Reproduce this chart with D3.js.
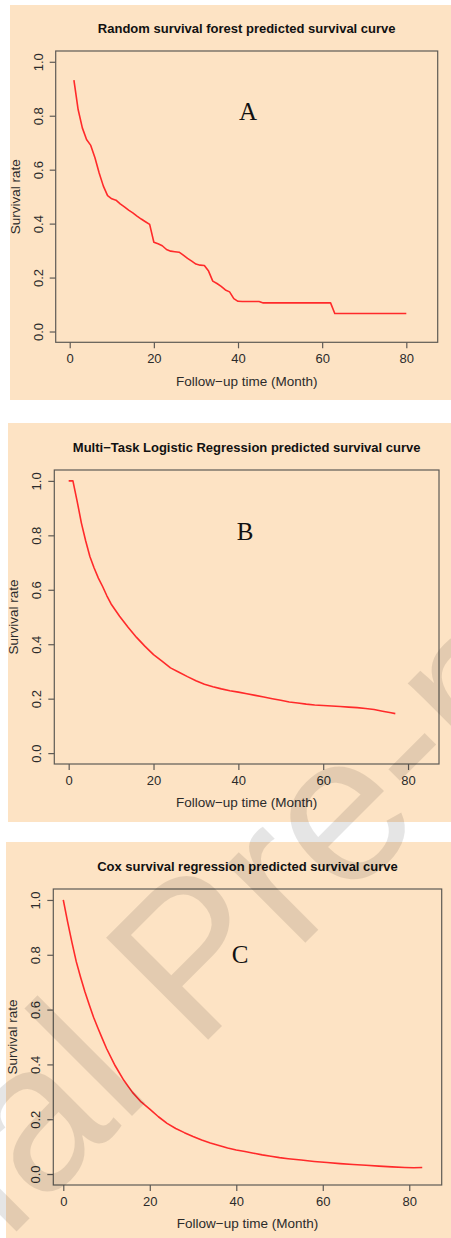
<!DOCTYPE html>
<html>
<head>
<meta charset="utf-8">
<style>
  body { margin: 0; background: #fff; }
  svg text { font-family: "Liberation Sans", Arial, sans-serif; }
  .panel-bg { fill: #fde3c4; }
  .frame { fill: none; stroke: #5e5a55; stroke-width: 1.2px; }
  .axis line { stroke: #5e5a55; stroke-width: 1.2px; }
  .axis text { font-size: 13px; fill: #2b2b2b; }
  .title { font-size: 13px; font-weight: bold; fill: #111; text-anchor: middle; }
  .axis-title { font-size: 13.5px; fill: #2b2b2b; text-anchor: middle; }
  .curve { fill: none; stroke: #ff2a2a; stroke-width: 1.6px; stroke-linejoin: round; }
  .tag { font-family: "Liberation Serif", "Times New Roman", serif; font-size: 25px; fill: #111; text-anchor: middle; }
  .watermark { font-size: 210px; fill: #000; fill-opacity: 0.1; }
</style>
</head>
<body>
<div id="chart"></div>
<script src="https://cdn.jsdelivr.net/npm/d3@7"></script>
<script>
var xTicks = [0, 20, 40, 60, 80];
var yTicks = [0, 0.2, 0.4, 0.6, 0.8, 1.0];
var panelTitles = [
  "Random survival forest predicted survival curve",
  "Multi\u2212Task Logistic Regression predicted survival curve",
  "Cox survival regression predicted survival curve"
];
var panelTags = ["A", "B", "C"];
var xLabel = "Follow\u2212up time (Month)";
var yLabel = "Survival rate";

// [month, survival]
var rsfCurve = [
  [1, 0.932], [2, 0.823], [3, 0.755], [4, 0.712], [5, 0.690], [6, 0.644], [7, 0.588],
  [8, 0.539], [9, 0.504], [10, 0.492], [11, 0.487], [12, 0.473], [13, 0.462], [14, 0.450],
  [15, 0.440], [16, 0.428], [17, 0.417], [18, 0.407], [19, 0.397], [20, 0.331], [21, 0.325],
  [22, 0.318], [23, 0.304], [24, 0.298], [25, 0.296], [26, 0.294], [27, 0.283], [28, 0.271],
  [29, 0.261], [30, 0.250], [31, 0.246], [32, 0.245], [33, 0.224], [34, 0.187], [35, 0.178],
  [36, 0.167], [37, 0.154], [38, 0.147], [39, 0.122], [40, 0.112], [41, 0.111], [45, 0.111],
  [46, 0.106], [62, 0.106], [63, 0.067], [80, 0.067]
];
var mtlrCurve = [
  [0, 1.0], [1, 1.0], [2, 0.925], [3, 0.845], [4, 0.78], [5, 0.722], [6, 0.68], [7, 0.643],
  [8, 0.612], [9, 0.578], [10, 0.548], [12, 0.503], [14, 0.462], [16, 0.425], [18, 0.392],
  [20, 0.362], [22, 0.338], [24, 0.313], [26, 0.297], [28, 0.281], [30, 0.266], [32, 0.253],
  [34, 0.244], [36, 0.236], [38, 0.229], [40, 0.224], [42, 0.218], [44, 0.212], [46, 0.206],
  [48, 0.200], [50, 0.194], [52, 0.188], [54, 0.184], [56, 0.180], [58, 0.177], [60, 0.175],
  [62, 0.173], [64, 0.171], [66, 0.169], [68, 0.167], [70, 0.164], [72, 0.160], [74, 0.154],
  [76, 0.148], [77, 0.145]
];
var coxCurve = [
  [0, 1.0], [1, 0.92], [2, 0.845], [3, 0.775], [4, 0.718], [5, 0.665], [6, 0.618], [7, 0.572],
  [8, 0.533], [9, 0.495], [10, 0.458], [12, 0.395], [14, 0.342], [16, 0.298], [18, 0.263],
  [20, 0.237], [22, 0.209], [24, 0.185], [26, 0.166], [28, 0.151], [30, 0.137], [32, 0.124],
  [34, 0.113], [36, 0.104], [38, 0.095], [40, 0.088], [42, 0.082], [44, 0.076], [46, 0.070],
  [48, 0.065], [50, 0.060], [52, 0.056], [55, 0.051], [58, 0.046], [61, 0.042], [64, 0.038],
  [67, 0.035], [70, 0.032], [73, 0.029], [76, 0.026], [79, 0.024], [81, 0.023], [83, 0.024]
];
var curves = [rsfCurve, mtlrCurve, coxCurve];

// layout of the three stacked panels
var panels = [
  { bg: [10, 5, 441, 395], box: [55.7, 51, 382, 291.3], xDom: [-3.33, 87.46], tag: [42.4, 0.815] },
  { bg: [8, 423, 443, 399], box: [54.3, 470, 384.7, 294], xDom: [-3.39, 87.3], tag: [41.6, 0.815] },
  { bg: [6, 842, 445, 400], box: [53.3, 889, 388.4, 296], xDom: [-2.31, 87.5], tag: [40.9, 0.803] }
];

var width = 451, height = 1238;

var svg = d3.select("#chart").append("svg")
  .attr("width", width)
  .attr("height", height);

panels.forEach(function (p, i) {
  svg.append("rect")
    .attr("class", "panel-bg")
    .attr("x", p.bg[0]).attr("y", p.bg[1])
    .attr("width", p.bg[2]).attr("height", p.bg[3]);

  var bx = p.box[0], by = p.box[1], bw = p.box[2], bh = p.box[3];
  var g = svg.append("g").attr("transform", "translate(" + bx + "," + by + ")");

  var x = d3.scaleLinear().domain(p.xDom).range([0, bw]);
  var y = d3.scaleLinear().domain([-0.04, 1.04]).range([bh, 0]);

  var xAxis = g.append("g")
    .attr("class", "axis")
    .attr("transform", "translate(0," + bh + ")")
    .call(d3.axisBottom(x).tickValues(xTicks).tickSize(6).tickSizeOuter(0).tickFormat(d3.format("d")));
  xAxis.select(".domain").remove();
  xAxis.selectAll("text").attr("y", 16.5).attr("dy", "0.35em");

  var yAxis = g.append("g")
    .attr("class", "axis")
    .call(d3.axisLeft(y).tickValues(yTicks).tickSize(6).tickSizeOuter(0).tickFormat(d3.format(".1f")));
  yAxis.select(".domain").remove();
  yAxis.selectAll("text")
    .attr("x", null).attr("dy", "0.35em")
    .attr("text-anchor", "middle")
    .attr("transform", "translate(-17.5,0) rotate(-90)");

  g.append("rect")
    .attr("class", "frame")
    .attr("width", bw).attr("height", bh);

  g.append("path")
    .datum(curves[i])
    .attr("class", "curve")
    .attr("d", d3.line().x(function (d) { return x(d[0]); }).y(function (d) { return y(d[1]); }));

  g.append("text")
    .attr("class", "tag")
    .attr("x", x(p.tag[0])).attr("y", y(p.tag[1]))
    .attr("dy", "0.35em")
    .text(panelTags[i]);

  g.append("text")
    .attr("class", "title")
    .attr("x", bw / 2).attr("y", -23)
    .attr("dy", "0.35em")
    .text(panelTitles[i]);

  g.append("text")
    .attr("class", "axis-title")
    .attr("x", bw / 2).attr("y", bh + 38.7)
    .attr("dy", "0.35em")
    .text(xLabel);

  g.append("text")
    .attr("class", "axis-title")
    .attr("transform", "translate(-40.7," + bh / 2 + ") rotate(-90)")
    .attr("dy", "0.35em")
    .text(yLabel);
});

// diagonal watermark
var wm = svg.append("g").attr("transform", "translate(196,1052) rotate(-45)");
wm.append("text").attr("class", "watermark").attr("x", 0).attr("y", 0).text("Pre-proof");
wm.append("text").attr("class", "watermark").attr("x", -58).attr("y", 0)
  .attr("text-anchor", "end").text("Journal");
</script>
</body>
</html>
